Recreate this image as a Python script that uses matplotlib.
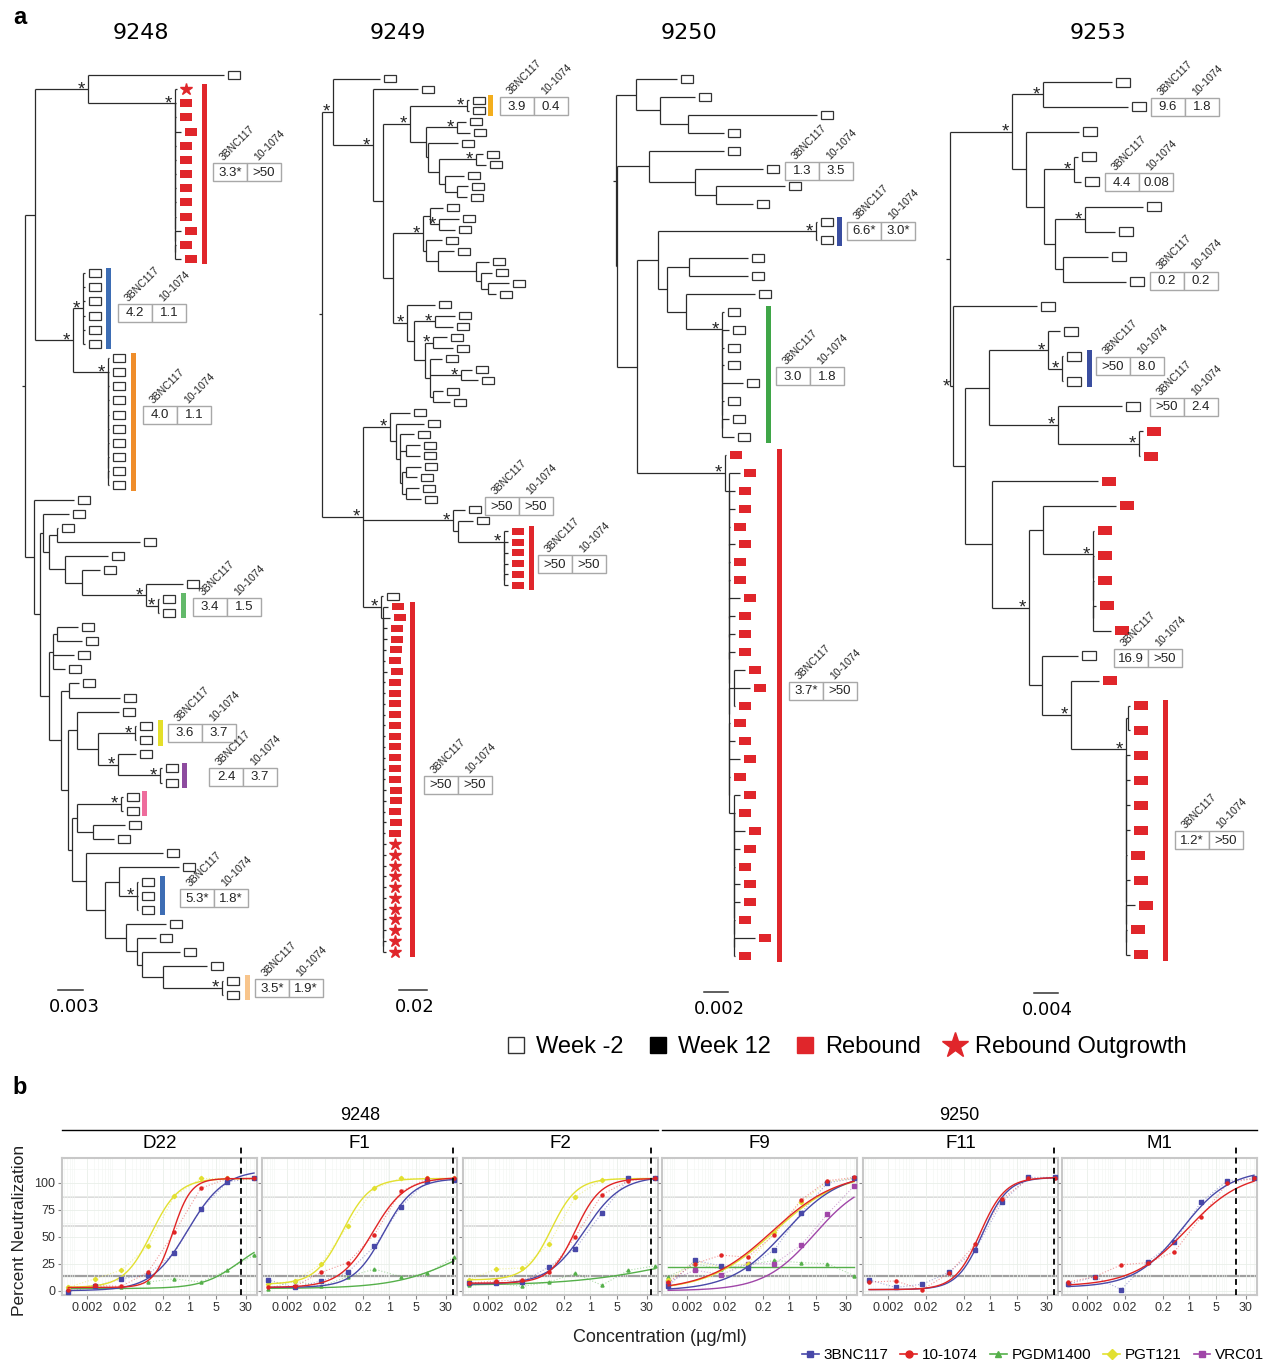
import numpy as np
import matplotlib.pyplot as plt
from matplotlib.patches import Rectangle
from matplotlib.lines import Line2D
from matplotlib.collections import LineCollection
from matplotlib.ticker import NullFormatter, FixedLocator

W, H = 1264, 1362
SANS = "Liberation Sans"
DEJA = "DejaVu Sans"
RED = "#e0262b"
LINE = "#2b2b2b"

# ---------------- panel a: phylogenetic trees ----------------
# newick, branch lengths in scale-bar pixel units
# leaves: w = Week -2, r = Rebound, s = Rebound Outgrowth ; '*' = supported node
# [a,b,c,...] = ladder of zero-length internal nodes
TREE_NAMES = ["9248", "9249", "9250", "9253"]

NWK = {
"9248": """
((
  (w:136,[s:2,r:1,r:1,r:6,r:1,r:1,r:1,r:1,r:1,r:1,r:6,r:1,r:6]*:87)*:53,
  ((w:2,w:2,w:2,w:2,w:2,w:2)*:10,[w:1,w:1,w:1,w:1,w:1,w:1,w:1,w:1,w:1,w:1]*:35)*:38
 ):10,
 (w:40,
  ((w:26,((w:1,w:83):8,(w:43,(w:18,(w:37,(w:1,w:1)*:12)*:64):17):16):6):3,
   (((w:21,w:25):4,w:21,w:12):4,
    ((w:10,w:51):8,
     ((w:42,((w:1,w:1)*:37,(w:18,(w:2,w:2)*:42)*:20):21):9,
      (((w:2,w:2)*:44,(w:32,w:21):16):5,
       (w:77,((w:60,(w:1,w:1,w:1)*:18):14,(w:40,(w:19,(w:38,(w:44,(w:1,w:1)*:59):21):5):11):21):19):14
      ):4
     ):7
    ):12
   ):9
  ):6
 ):9
):3
""",
"9249": """
(
 (w:47,
  (w:45,
   (
    ((w:2,w:2)*:57,
     ((w:9,w:13)*:31,
      (w:30,((w:7,w:10)*:37,(w:19,(w:11,w:10):12):6):11):2
     ):16
    )*:27,
    (
     ((w:13,(w:20,w:16)*:9):7,
      (w:16,(w:16,(w:13,(w:11,(w:21,w:8):7):5):38):12):3
     )*:30,
     (w:28,
      ((w:20,w:18)*:21,
       ((w:14,w:20)*:8,(w:12,(w:11,w:17)*:31,(w:10,w:17):3):5):11
      ):7
     )*:14
    ):10
   ):10
  )*:40
 )*:11,
 (
  (w:20,(w:28,(w:14,(w:14,w:14):6,((w:15,w:11):4,(w:13,w:15):4):2):4):6)*:27,
  (w:12,(w:15,[r:4,r:4,r:4,r:4,r:4,r:4]*:46):5)*:90,
  (w:2,[r:5,r:7,r:4,r:4,r:3,r:2,r:4,r:2,r:2,r:2,r:2,r:2,r:2,r:2,r:2,r:2,r:2,r:3,r:3,r:2,r:3,r:2,
        s:3,s:3,s:3,s:3,s:3,s:3,s:3,s:3,s:3,s:3,s:3]:2)*:18
 )*:41
):3
""",
"9250": """
(
 (w:41,(w:35,(w:129,w:36):28):24):20,
 (
  (w:75,(w:68,(w:69,w:37):21):46):32,
  (
   ((w:1,w:1)*:158,
    ((w:59,w:59):22,(w:69,[w:2,w:7,w:2,w:2,w:21,w:2,w:7,w:12]*:36):19):9
   ):21,
   (r:1,[r:11,r:6,r:6,r:1,r:6,r:1,r:1,r:11,r:6,r:6,r:6,(r:11,r:16,r:1):5,r:1,r:6,r:11,r:1,
         [r:6,r:1,r:11,r:6,r:1,r:6,r:6,r:1,r:21,r:1]:5]:4)*:88
  ):20
 ):1
):3
""",
"9253": """
(
 (
  (w:69,w:85)*:31,
  (w:53,((w:4,w:7)*:30,((w:58,w:30)*:30,(w:45,w:63):8):11):18):14
 )*:62,
 (w:84,
  (
   ((w:12,(w:1,w:1)*:14)*:59,(w:64,(r:4,r:1)*:81)*:69):24,
   (r:106,
    (
     (r:73,[r:1,r:1,r:1,r:3,r:18]*:50):14,
     (w:36,(r:28,((r:2,r:2):2,[r:4,r:4,r:4,r:4,r:1,r:4,r:9,r:1,r:4]:0)*:55)*:29):13
    )*:37
   ):27
  ):12
 )*:3
):4
""",
}

SCALE_LEN = {"9248": 25, "9249": 28, "9250": 24, "9253": 24}
SCALE_TXT = {"9248": "0.003", "9249": "0.02", "9250": "0.002", "9253": "0.004"}

# coloured clade bars: (first leaf, last leaf, colour)
CLADES = {
    "9248": [(1, 13, RED), (14, 19, "#3d6db4"), (20, 29, "#ef8d2b"), (37, 38, "#63b96a"),
             (46, 47, "#e4df2a"), (49, 50, "#8d4b9f"), (51, 52, "#ee6c9c"),
             (57, 59, "#3d6db4"), (64, 65, "#f8c58c")],
    "9249": [(2, 3, "#f3ae1d"), (42, 47, RED), (49, 81, RED)],
    "9250": [(8, 9, "#3a4ea0"), (13, 20, "#3fa648"), (21, 49, RED)],
    "9253": [(11, 12, "#3a4ea0"), (25, 35, RED)],
}

# IC50 (ug/ml) of 3BNC117 and 10-1074
IC50 = {
    "9248": [("3.3*", ">50"), ("4.2", "1.1"), ("4.0", "1.1"), ("3.4", "1.5"), ("3.6", "3.7"),
             ("2.4", "3.7"), ("5.3*", "1.8*"), ("3.5*", "1.9*")],
    "9249": [("3.9", "0.4"), (">50", ">50"), (">50", ">50"), (">50", ">50")],
    "9250": [("1.3", "3.5"), ("6.6*", "3.0*"), ("3.0", "1.8"), ("3.7*", ">50")],
    "9253": [("9.6", "1.8"), ("4.4", "0.08"), ("0.2", "0.2"), (">50", "8.0"), (">50", "2.4"),
             ("16.9", ">50"), ("1.2*", ">50")],
}

# ---- layout of panel a (pixels) ----
ROOT_X = {"9248": 22, "9249": 319, "9250": 613, "9253": 946}
LEAF_GEOM = {"9248": (75, 14.15, 12, 8), "9249": (78.6, 10.78, 12, 7),
             "9250": (79, 17.9, 12, 8), "9253": (82, 24.94, 14, 9)}
TITLE_X = {"9248": 141, "9249": 398, "9250": 689, "9253": 1098}
BAR_X = {"9248": [204, 108, 133, 183, 160, 184, 144, 162, 247],
         "9249": [490, 531, 412], "9250": [839, 768, 779], "9253": [1089, 1165]}
TABLE_POS = {
    "9248": [(213, 172), (118, 313), (143, 415), (193, 607), (168, 733), (209, 777),
             (180, 898), (255, 988)],
    "9249": [(500, 106), (485, 506), (538, 564), (424, 785)],
    "9250": [(785, 171), (847, 231), (776, 376), (789, 691)],
    "9253": [(1151, 107), (1105, 182), (1150, 281), (1096, 366), (1150, 407),
             (1114, 658), (1175, 840)],
}
SCALE_POS = {"9248": (58, 990, 74), "9249": (399, 990, 415),
             "9250": (704, 992, 719), "9253": (1034, 993, 1047)}

# ---------------- panel b: neutralization ----------------
CONC = [0.00064, 0.0032, 0.016, 0.08, 0.4, 2, 10, 50]
ANTIBODIES = ["3BNC117", "10-1074", "PGDM1400", "PGT121", "VRC01"]
AB_COLOR = {"3BNC117": "#4848a8", "10-1074": "#e02424", "PGDM1400": "#55b04a",
            "PGT121": "#e2e030", "VRC01": "#a046a8"}
AB_MARKER = {"3BNC117": "s", "10-1074": "o", "PGDM1400": "^", "PGT121": "D", "VRC01": "s"}
VIRUSES = ["D22", "F1", "F2", "F9", "F11", "M1"]
GROUPS = [("9248", ["D22", "F1", "F2"]), ("9250", ["F9", "F11", "M1"])]

NEUT = {
    "D22": {"PGDM1400": [3, 4, 3, 8, 11, 8, 19, 33],
            "PGT121": [3, 11, 19, 41, 88, 104, 104, 104],
            "3BNC117": [-1, 4, 11, 15, 35, 76, 101, 104],
            "10-1074": [1, 5, 4, 17, 54, 95, 104, 104]},
    "F1": {"PGDM1400": [2, 9, 4, 13, 20, 13, 16, 31],
           "PGT121": [6, 9, 25, 60, 95, 104, 104, 104],
           "3BNC117": [10, 3, 9, 17, 41, 78, 102, 103],
           "10-1074": [3, 4, 17, 26, 52, 92, 104, 104]},
    "F2": {"PGDM1400": [5, 7, 4, 8, 16, 5, 19, 23],
           "PGT121": [10, 20, 21, 43, 87, 103, 104, 104],
           "3BNC117": [7, 7, 8, 22, 39, 72, 104, 104],
           "10-1074": [7, 9, 10, 17, 50, 89, 102, 104]},
    "F9": {"PGDM1400": [13, 25, 20, 24, 28, 26, 25, 14],
           "VRC01": [8, 19, 15, 25, 25, 42, 71, 97],
           "PGT121": [10, 27, 22, 25, 54, 82, 101, 104],
           "3BNC117": [4, 28, 23, 21, 38, 72, 100, 104],
           "10-1074": [8, 25, 33, 31, 52, 84, 102, 105]},
    "F11": {"3BNC117": [10, 3, 6, 17, 38, 82, 105, 105],
            "10-1074": [8, 9, 1, 16, 43, 85, 104, 104]},
    "M1": {"3BNC117": [6, 13, 1, 27, 45, 82, 102, 104],
           "10-1074": [8, 13, 24, 26, 36, 68, 100, 104]},
}

# fitted curves: (bottom, top, IC50, hill slope)
FIT = {
    "D22": {"PGDM1400": (2, 50, 20, 0.9), "PGT121": (3, 104, 0.1, 1.2),
            "3BNC117": (0, 112, 0.9, 0.9), "10-1074": (3, 104, 0.36, 1.8)},
    "F1": {"PGDM1400": (2, 60, 80, 0.5), "PGT121": (6, 104, 0.058, 1.2),
           "3BNC117": (3, 104, 0.7, 1.1), "10-1074": (3, 105, 0.36, 1.0)},
    "F2": {"PGDM1400": (5, 40, 100, 0.35), "PGT121": (10, 104, 0.093, 1.3),
           "3BNC117": (6, 106, 0.71, 0.9), "10-1074": (7, 104, 0.4, 1.3)},
    "F9": {"PGDM1400": (22, 22, 1, 1), "VRC01": (0, 105, 4.6, 0.65),
           "PGT121": (0, 110, 0.4, 0.5), "3BNC117": (0, 110, 0.78, 0.6),
           "10-1074": (0, 110, 0.35, 0.5)},
    "F11": {"3BNC117": (1, 105, 0.62, 1.3), "10-1074": (1, 105, 0.53, 1.3)},
    "M1": {"3BNC117": (3, 112, 0.64, 0.7), "10-1074": (4, 110, 0.87, 0.6)},
}
DASHED = {"D22": 23, "F1": 48, "F2": 39, "F9": None, "F11": 48, "M1": 17}
REF_LINES = {"D22": [60, 87], "F1": [87], "F2": [60, 87], "F9": [60, 87],
             "F11": [87], "M1": [87]}
BASELINE = 14

PANEL_LEFT = [62, 262, 463, 662, 863, 1062]
PANEL_W, PANEL_TOP, PANEL_BOT = 195, 1158, 1295


def parse_newick(text):
    s = "".join(text.split())
    pos = 0

    def read_node():
        nonlocal pos
        kids = []
        if s[pos] in "([":
            ladder = s[pos] == "["
            pos += 1
            kids.append(read_node())
            while s[pos] == ",":
                pos += 1
                kids.append(read_node())
            pos += 1
            if ladder and len(kids) > 2:
                inner = kids[-1]
                for k in reversed(kids[1:-1]):
                    inner = {"name": "", "len": 0.0, "kids": [k, inner]}
                kids = [kids[0], inner]
        start = pos
        while pos < len(s) and s[pos] not in ",()[]":
            pos += 1
        label = s[start:pos]
        length = 0.0
        if ":" in label:
            label, ln = label.split(":")
            length = float(ln)
        return {"name": label, "len": length, "kids": kids}

    return read_node()


def place(node, x_parent, leaves):
    node["x"] = x_parent + node["len"]
    if node["kids"]:
        for k in node["kids"]:
            place(k, node["x"], leaves)
        node["y"] = 0.5 * (node["kids"][0]["y"] + node["kids"][-1]["y"])
    else:
        node["y"] = float(len(leaves))
        leaves.append(node)


def walk(node, out):
    out.append(node)
    for k in node["kids"]:
        walk(k, out)


def four_pl(x, bottom, top, ic50, hill):
    return bottom + (top - bottom) / (1 + (ic50 / x) ** hill)


fig = plt.figure(figsize=(W / 100, H / 100), dpi=100)
ax0 = fig.add_axes([0, 0, 1, 1])
ax0.set_xlim(0, W)
ax0.set_ylim(H, 0)
ax0.axis("off")

ax0.text(20, 18, "a", fontsize=17, fontweight="bold", family=SANS, ha="center", va="center")
ax0.text(20, 1088, "b", fontsize=17, fontweight="bold", family=SANS, ha="center", va="center")

for name in TREE_NAMES:
    root = parse_newick(NWK[name])
    leaves = []
    x0 = ROOT_X[name]
    place(root, x0, leaves)
    top, step, bw, bh = LEAF_GEOM[name]

    def Y(v):
        return top + v * step

    nodes = []
    walk(root, nodes)
    segs = [[(x0, Y(root["y"])), (root["x"], Y(root["y"]))]]
    for n in nodes:
        if n["kids"]:
            segs.append([(n["x"], Y(n["kids"][0]["y"])), (n["x"], Y(n["kids"][-1]["y"]))])
            for k in n["kids"]:
                segs.append([(n["x"], Y(k["y"])), (k["x"], Y(k["y"]))])
            if n["name"] == "*":
                ax0.text(n["x"] - 7, Y(n["y"]) + 5, "*", fontsize=13.5, family=SANS,
                         ha="center", va="baseline", color="#222")
        else:
            lx, ly = n["x"] + 4, Y(n["y"])
            if n["name"] == "w":
                ax0.add_patch(Rectangle((lx, ly - bh / 2), bw, bh, fc="white",
                                        ec="#333333", lw=0.9))
            elif n["name"] == "r":
                ax0.add_patch(Rectangle((lx, ly - bh / 2), bw, bh, fc=RED, ec="none"))
            else:
                ax0.plot([lx + 5], [ly], marker="*", ms=9, color=RED, ls="none")
    ax0.add_collection(LineCollection(segs, colors=LINE, linewidths=0.9))

    ax0.text(TITLE_X[name], 33, name, fontsize=16, family=DEJA, ha="center", va="center")

    for (i0, i1, col), bx in zip(CLADES[name], BAR_X[name]):
        y_a, y_b = Y(i0) - bh / 2 - 1.5, Y(i1) + bh / 2 + 1.5
        ax0.add_patch(Rectangle((bx - 2.5, y_a), 5, y_b - y_a, fc=col, ec="none"))

    for (v1, v2), (tx, ty) in zip(IC50[name], TABLE_POS[name]):
        cw, ch = 34, 18
        for j, v in enumerate((v1, v2)):
            ax0.add_patch(Rectangle((tx + j * cw, ty - ch / 2), cw, ch, fc="white",
                                    ec="#a8a8a8", lw=1.0))
            ax0.text(tx + j * cw + cw / 2, ty + 0.5, v, fontsize=9.5, family=SANS,
                     ha="center", va="center", color="#222")
        for j, lab in enumerate(("3BNC117", "10-1074")):
            ax0.text(tx + j * cw + 11, ty - ch / 2 - 2, lab, fontsize=7.5, family=SANS,
                     rotation=45, rotation_mode="anchor", ha="left", va="baseline",
                     color="#222")

    sx, sy, lx = SCALE_POS[name]
    ax0.plot([sx, sx + SCALE_LEN[name]], [sy, sy], color="#333", lw=1.1)
    ax0.text(lx, sy + 17, SCALE_TXT[name], fontsize=13, family=DEJA, ha="center",
             va="center")

tree_handles = [
    Line2D([], [], ls="none", marker="s", ms=12, mfc="white", mec="#333", mew=1.0),
    Line2D([], [], ls="none", marker="s", ms=12, mfc="black", mec="black"),
    Line2D([], [], ls="none", marker="s", ms=12, mfc=RED, mec=RED),
    Line2D([], [], ls="none", marker="*", ms=19, mfc=RED, mec=RED),
]
fig.legend(tree_handles, ["Week -2", "Week 12", "Rebound", "Rebound Outgrowth"],
           loc="center", bbox_to_anchor=(846 / W, 1 - 1047 / H), ncol=4,
           frameon=False, prop={"family": SANS, "size": 17},
           handlelength=0.9, handletextpad=0.4, columnspacing=1.0)

# ---------------- panel b ----------------
xs = np.logspace(np.log10(CONC[0]), np.log10(CONC[-1]), 200)
for i, virus in enumerate(VIRUSES):
    left = PANEL_LEFT[i]
    ax = fig.add_axes([left / W, 1 - PANEL_BOT / H, PANEL_W / W,
                       (PANEL_BOT - PANEL_TOP) / H])
    ax.set_xscale("log")
    ax.set_xlim(4.4e-4, 60)
    ax.set_ylim(-4, 123)
    ax.set_facecolor("white")
    ax.grid(True, which="major", color="#e9efe9", lw=0.6)
    ax.grid(True, which="minor", color="#f1f5f1", lw=0.4)
    ax.yaxis.set_minor_locator(FixedLocator([12.5, 37.5, 62.5, 87.5, 112.5]))
    for sp in ax.spines.values():
        sp.set_color("#c8c8c8")
        sp.set_linewidth(1.5)
    ax.axhline(BASELINE, color="#a0a0a0", lw=1.6, zorder=1)
    for yl in REF_LINES[virus]:
        ax.axhline(yl, color="#d6d6d6", lw=1.2, zorder=1)

    for ab, vals in NEUT[virus].items():
        col = AB_COLOR[ab]
        ax.plot(CONC, vals, ls=":", lw=0.8, color=col, alpha=0.45, zorder=2)
        ax.plot(CONC, vals, ls="none", marker=AB_MARKER[ab], ms=2.2, color=col, zorder=3)
        ax.plot(xs, four_pl(xs, *FIT[virus][ab]), color=col, lw=1.0, zorder=3)

    if DASHED[virus] is not None:
        ax.vlines(DASHED[virus], -4, 136, colors="#111", linestyles=(0, (3, 2.2)),
                  lw=1.4, clip_on=False, zorder=5)

    ax.set_xticks([0.002, 0.02, 0.2, 1, 5, 30])
    ax.set_xticklabels(["0.002", "0.02", "0.2", "1", "5", "30"])
    ax.xaxis.set_minor_formatter(NullFormatter())
    ax.set_yticks([0, 25, 50, 75, 100])
    ax.tick_params(which="major", length=3, color="#888", labelsize=9,
                   labelcolor="#333", pad=2)
    ax.tick_params(which="minor", length=0)
    for lab in ax.get_xticklabels() + ax.get_yticklabels():
        lab.set_family(SANS)
    if i > 0:
        ax.set_yticklabels([])
    ax0.text(left + PANEL_W / 2, 1143, virus, fontsize=13.5, family=SANS,
             ha="center", va="center")

for gname, members in GROUPS:
    l = PANEL_LEFT[VIRUSES.index(members[0])]
    r = PANEL_LEFT[VIRUSES.index(members[-1])] + PANEL_W
    ax0.plot([l, r], [1130, 1130], color="black", lw=1.0)
    ax0.text((l + r) / 2, 1116, gname, fontsize=13, family=SANS, ha="center",
             va="center")

ax0.text(20, 1230, "Percent Neutralization", rotation=90, fontsize=12.5, family=SANS,
         ha="center", va="center", color="#222")
ax0.text(660, 1338, "Concentration (\u00b5g/ml)", fontsize=13, family=SANS,
         ha="center", va="center", color="#222")

ab_handles = [Line2D([], [], color=AB_COLOR[ab], marker=AB_MARKER[ab], ms=5, lw=1.2)
              for ab in ANTIBODIES]
fig.legend(ab_handles, ANTIBODIES, loc="center", bbox_to_anchor=(1033 / W, 1 - 1355 / H),
           ncol=5, frameon=False, prop={"family": SANS, "size": 11},
           handlelength=1.1, handletextpad=0.3, columnspacing=0.8)

fig.savefig("out.png", dpi=100)
